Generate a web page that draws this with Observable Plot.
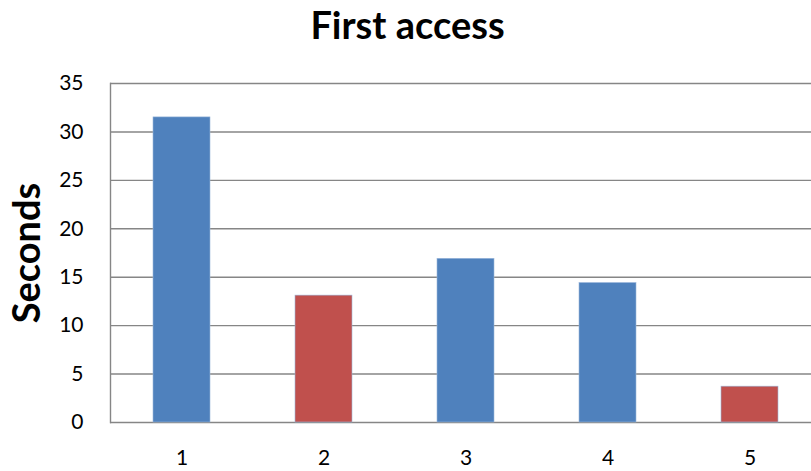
<!DOCTYPE html>
<html>
<head>
<meta charset="utf-8">
<script src="https://cdn.jsdelivr.net/npm/d3@7"></script>
<script src="https://cdn.jsdelivr.net/npm/@observablehq/plot@0.6"></script>
<style>
  html, body { margin: 0; padding: 0; background: #fff; overflow: hidden; }
  #wrap { width: 811px; height: 471px; position: relative; }
  #title { position: absolute; left: 0; top: 0; width: 815px; height: 60px; text-align: center;
    font-family: Lato, "Open Sans", sans-serif; font-weight: bold; font-size: 38px; line-height: 48px; color: #000; }
  #chart { position: absolute; left: 0; top: 60px; }
</style>
</head>
<body>
<div id="wrap">
  <div id="title">First access</div>
  <div id="chart"></div>
</div>
<script>
const categories = ["1", "2", "3", "4", "5"];
const values = [31.5, 13.1, 16.9, 14.4, 3.7];
const groups = ["A", "B", "A", "A", "B"];
const yTicks = [0, 5, 10, 15, 20, 25, 30, 35];
const yLabel = "Seconds";

const data = categories.map((c, i) => ({category: c, value: values[i], group: groups[i]}));

const plot = Plot.plot({
  width: 811,
  height: 411,
  marginLeft: 110,
  marginRight: -2,
  marginTop: 23,
  marginBottom: 49,
  style: {fontFamily: "Lato, 'Open Sans', sans-serif", fontSize: "21px", color: "#000", background: "#fff"},
  x: {domain: categories, range: [110, 820], paddingInner: 0.6, paddingOuter: 0.3, label: null},
  y: {domain: [0, 35], label: null},
  color: {domain: ["A", "B"], range: ["#4F81BD", "#C0504D"]},
  marks: [
    Plot.gridY(yTicks, {stroke: "#868686", strokeOpacity: 1, strokeWidth: 1.4}),
    Plot.frame({anchor: "left", stroke: "#868686", strokeWidth: 1.4}),
    Plot.barY(data, {x: "category", y: "value", fill: "group", stroke: "#9bb7db", strokeWidth: 0.6}),
    Plot.axisY(yTicks, {tickSize: 0, tickPadding: 27, label: null, fill: "#000"}),
    Plot.axisX({tickSize: 0, tickPadding: 28, label: null, fill: "#000"}),
    Plot.text([yLabel], {frameAnchor: "left", textAnchor: "middle", rotate: -90, dx: -83, fontSize: 38, fontWeight: "bold", fill: "#000"})
  ]
});
document.getElementById("chart").appendChild(plot);
</script>
</body>
</html>
